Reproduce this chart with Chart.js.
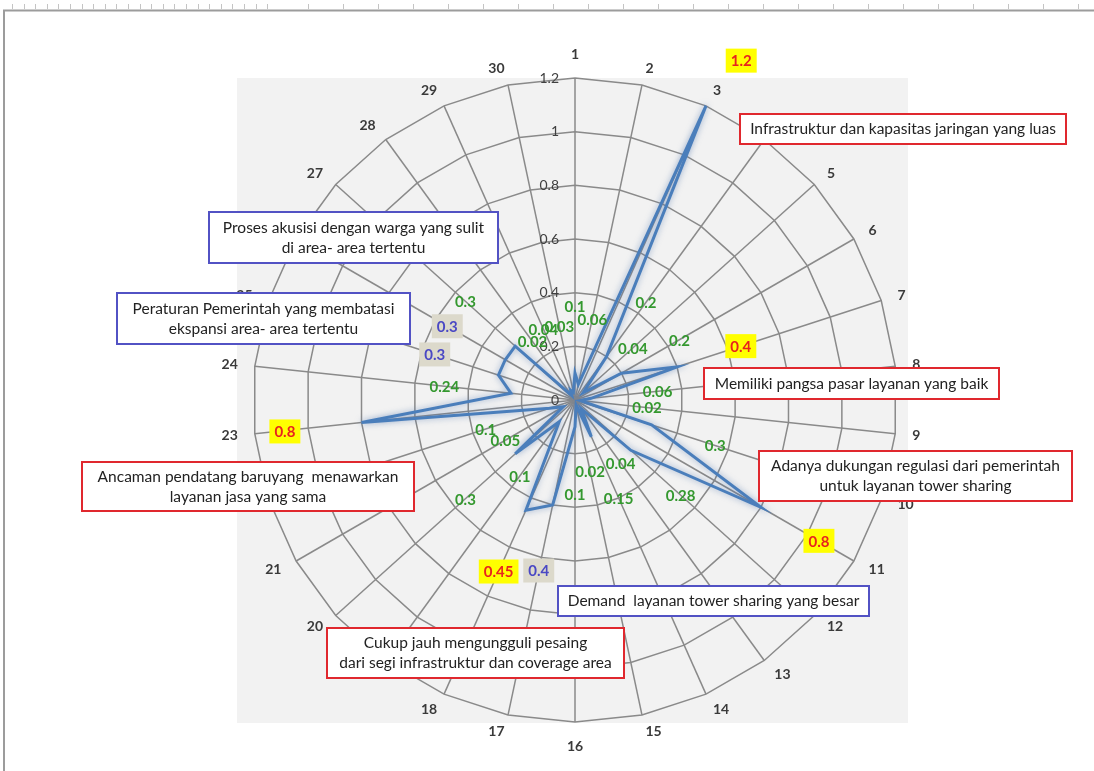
<!DOCTYPE html>
<html>
<head>
<meta charset="utf-8">
<script src="https://cdn.jsdelivr.net/npm/chart.js@4.4.1/dist/chart.umd.min.js"></script>
<style>
  html, body { margin: 0; padding: 0; background: #ffffff; }
  #wrap { width: 1094px; height: 771px; position: relative; }
</style>
</head>
<body>
<div id="wrap"><canvas id="radar"></canvas></div>
<script>
// ---- data ----
const axisLabels = ['1','2','3','4','5','6','7','8','9','10','11','12','13','14','15',
                    '16','17','18','19','20','21','22','23','24','25','26','27','28','29','30'];
const factorScores = [0.1, 0.06, 1.2, 0.2, 0.04, 0.2, 0.4, 0.06, 0.02, 0.3,
                      0.8, 0.28, 0.04, 0.15, 0.02, 0.1, 0.4, 0.45, 0.1, 0.3,
                      0.05, 0.1, 0.8, 0.24, 0.3, 0.3, 0.3, 0.02, 0.04, 0.03];
const radialTicks = [0, 0.2, 0.4, 0.6, 0.8, 1, 1.2];
// factors (0-based) whose score is flagged as a key strength / key constraint
const keyStrengths = [2, 6, 10, 17, 22];
const keyConstraints = [16, 24, 25];
const calloutTexts = [
  ['Infrastruktur dan kapasitas jaringan yang luas'],
  ['Memiliki pangsa pasar layanan yang baik'],
  ['Adanya dukungan regulasi dari pemerintah', 'untuk layanan tower sharing'],
  ['Demand  layanan tower sharing yang besar'],
  ['Cukup jauh mengungguli pesaing', 'dari segi infrastruktur dan coverage area'],
  ['Ancaman pendatang baruyang  menawarkan', 'layanan jasa yang sama'],
  ['Proses akusisi dengan warga yang sulit', 'di area- area tertentu'],
  ['Peraturan Pemerintah yang membatasi', 'ekspansi area- area tertentu']
];

// ---- presentation ----
const FONT = 'Lato, "Open Sans", "DejaVu Sans", sans-serif';
const RED = '#e0282e', BLUE = '#5252c4';
const calloutBoxes = [
  { x: 740, y: 114, w: 326, h: 30, border: RED },
  { x: 704, y: 368, w: 295, h: 31, border: RED },
  { x: 759, y: 451, w: 313, h: 50, border: RED },
  { x: 558, y: 586, w: 311, h: 30, border: BLUE },
  { x: 327, y: 628, w: 297, h: 50, border: RED },
  { x: 82,  y: 462, w: 332, h: 49, border: RED },
  { x: 209, y: 212, w: 289, h: 51, border: BLUE },
  { x: 117, y: 293, w: 293, h: 51, border: BLUE }
];

// window frame, ruler marks and the grey plot panel behind the radar
const backdropPlugin = {
  id: 'backdrop',
  beforeDraw(chart) {
    const ctx = chart.ctx, s = chart.scales.r;
    ctx.save();
    ctx.strokeStyle = '#c4c4c4';
    ctx.lineWidth = 1;
    ctx.beginPath();
    for (let x = 12; x < 275; x += 11.6) { ctx.moveTo(Math.round(x) + 0.5, 4); ctx.lineTo(Math.round(x) + 0.5, 9); }
    for (let x = 308; x < 1094; x += 35) { ctx.moveTo(Math.round(x) + 0.5, 4); ctx.lineTo(Math.round(x) + 0.5, 9); }
    ctx.stroke();
    ctx.strokeStyle = '#9c9c9c';
    ctx.lineWidth = 2;
    ctx.beginPath();
    ctx.moveTo(4, 771); ctx.lineTo(4, 10.5); ctx.lineTo(1094, 10.5);
    ctx.stroke();
    const R = s.drawingArea;
    ctx.fillStyle = '#f2f2f2';
    ctx.fillRect(s.xCenter - R - 16, s.yCenter - R, 2 * R + 27, 2 * R + 1);
    ctx.restore();
  }
};

// soft glow under the series line
const glowPlugin = {
  id: 'glow',
  beforeDatasetDraw(chart) {
    const ctx = chart.ctx;
    ctx.save();
    ctx.shadowColor = 'rgba(70,110,170,0.55)';
    ctx.shadowBlur = 6;
  },
  afterDatasetDraw(chart) { chart.ctx.restore(); }
};

// axis numbers, radial tick values and value labels
const labelPlugin = {
  id: 'labels',
  afterDatasetsDraw(chart, args, opts) {
    const ctx = chart.ctx, s = chart.scales.r;
    ctx.save();
    ctx.textBaseline = 'middle';

    // radial values, right-aligned beside the first spoke
    ctx.font = '14px ' + FONT;
    ctx.fillStyle = '#404040';
    ctx.textAlign = 'right';
    radialTicks.forEach(v => {
      const d = s.getDistanceFromCenterForValue(v);
      ctx.fillText(String(v), s.xCenter - 16, s.yCenter - d);
    });

    // spoke numbers: anchored just outside the rim, text pushed away from the vertical axis
    ctx.font = 'bold 14px ' + FONT;
    ctx.fillStyle = '#3a3a3a';
    ctx.textAlign = 'center';
    const n = axisLabels.length;
    axisLabels.forEach((t, i) => {
      const p = s.getPointPosition(i, s.drawingArea + opts.axisGap);
      const a = 2 * Math.PI * i / n;
      const sx = Math.sin(a), cy = Math.cos(a);
      const w = ctx.measureText(t).width, h = 14;
      let x = p.x, y = p.y;
      if (Math.abs(sx) < 0.05) y -= Math.sign(cy) * h / 2;
      else x += Math.sign(sx) * w / 2;
      ctx.fillText(t, x, y);
    });

    // value labels placed outward from each vertex
    ctx.font = 'bold 15px ' + FONT;
    factorScores.forEach((v, i) => {
      const p = s.getPointPosition(i, s.getDistanceFromCenterForValue(v) + opts.valueGap);
      const nd = opts.nudge[i] || [0, 0];
      const x = p.x + nd[0], y = p.y + nd[1];
      const text = String(v);
      const w = ctx.measureText(text).width + 10, h = 24;
      if (keyStrengths.includes(i)) {
        ctx.fillStyle = '#ffff00';
        ctx.fillRect(x - w / 2, y - h / 2, w, h);
        ctx.fillStyle = '#e8231e';
      } else if (keyConstraints.includes(i)) {
        ctx.fillStyle = '#dcd9cb';
        ctx.fillRect(x - w / 2, y - h / 2, w, h);
        ctx.fillStyle = '#4a48c4';
      } else {
        ctx.fillStyle = '#34982f';
      }
      ctx.fillText(text, x, y + 1);
    });
    ctx.restore();
  }
};

// text boxes explaining the highlighted factors
const calloutPlugin = {
  id: 'callouts',
  afterDraw(chart) {
    const ctx = chart.ctx;
    ctx.save();
    ctx.font = '15.5px ' + FONT;
    ctx.textAlign = 'center';
    ctx.textBaseline = 'middle';
    calloutTexts.forEach((lines, i) => {
      const b = calloutBoxes[i];
      ctx.fillStyle = '#ffffff';
      ctx.fillRect(b.x, b.y, b.w, b.h);
      ctx.strokeStyle = b.border;
      ctx.lineWidth = 2;
      ctx.strokeRect(b.x, b.y, b.w, b.h);
      ctx.fillStyle = '#222222';
      const cx = b.x + b.w / 2, cy = b.y + b.h / 2;
      const lh = 20;
      lines.forEach((t, k) => {
        ctx.fillText(t, cx, cy + (k - (lines.length - 1) / 2) * lh);
      });
    });
    ctx.restore();
  }
};

new Chart(document.getElementById('radar'), {
  type: 'radar',
  data: {
    labels: axisLabels,
    datasets: [{
      data: factorScores,
      borderColor: '#4a7ebb',
      borderWidth: 3,
      fill: false,
      pointRadius: 0,
      pointHoverRadius: 0,
      tension: 0,
      borderJoinStyle: 'miter'
    }]
  },
  options: {
    responsive: true,
    maintainAspectRatio: false,
    animation: false,
    layout: { padding: { left: 253, right: 197, top: 78, bottom: 49 } },
    plugins: {
      legend: { display: false },
      tooltip: { enabled: false },
      labels: { axisGap: 17, valueGap: 67, nudge: { 2: [8, 16], 22: [-10, 2] } }
    },
    scales: {
      r: {
        min: 0,
        max: 1.2,
        ticks: { stepSize: 0.2, display: false },
        grid: { color: '#8a8a8a', lineWidth: 1.5 },
        angleLines: { color: '#8a8a8a', lineWidth: 1.5 },
        pointLabels: { display: false }
      }
    }
  },
  plugins: [backdropPlugin, glowPlugin, labelPlugin, calloutPlugin]
});
</script>
</body>
</html>
